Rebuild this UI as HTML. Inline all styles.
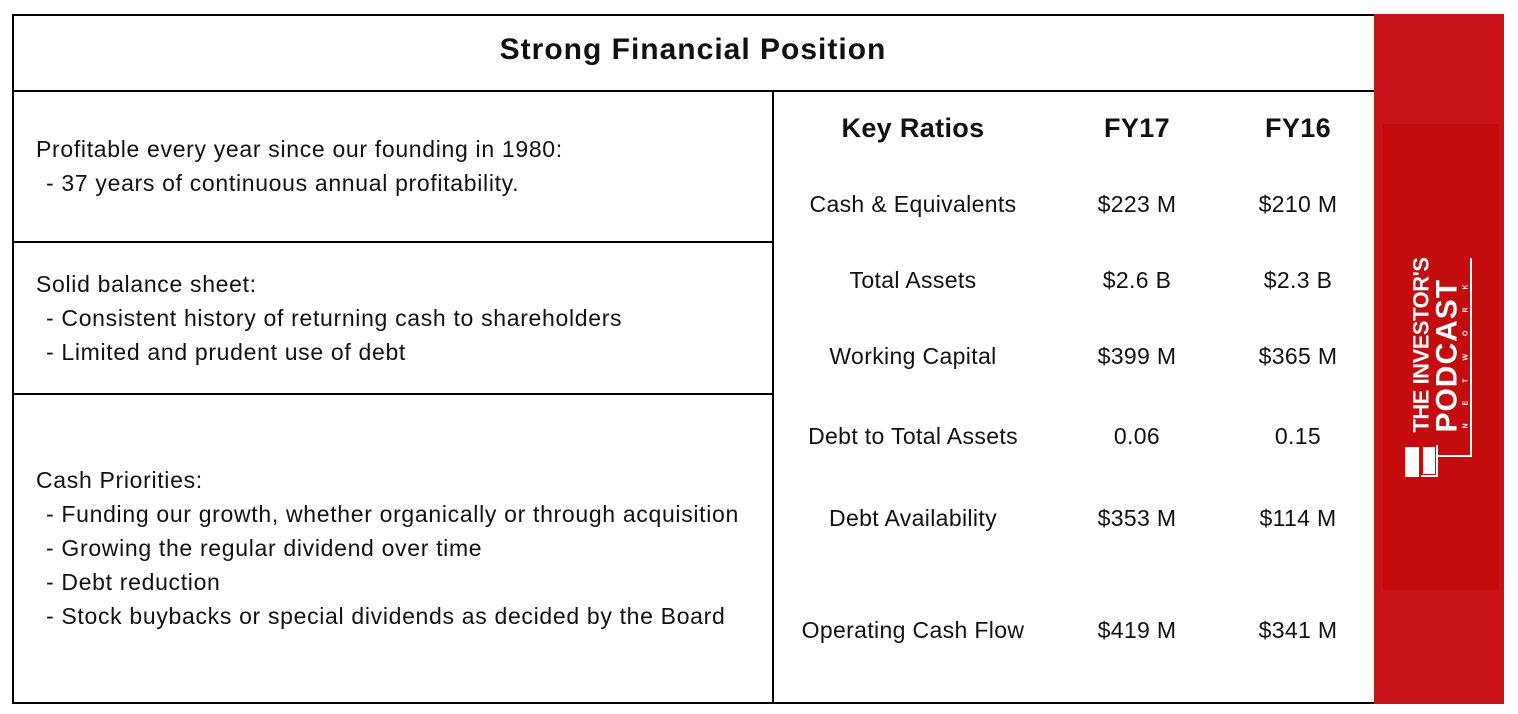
<!DOCTYPE html>
<html><head><meta charset="utf-8"><style>
body{margin:0;width:1518px;height:714px;background:#fff;position:relative;overflow:hidden;font-family:"Liberation Sans",sans-serif;color:#111}
.l{position:absolute;background:#000}
.t{position:absolute;font-size:23px;white-space:nowrap;letter-spacing:0.68px}
.c{position:absolute;font-size:23px;text-align:center;transform:translateX(-50%);white-space:nowrap;letter-spacing:0.35px}
.h{font-weight:bold;font-size:27px}
</style></head><body>
<div class="l" style="left:12px;top:14px;width:1362px;height:2px"></div>
<div class="l" style="left:12px;top:14px;width:2px;height:690px"></div>
<div class="l" style="left:12px;top:90px;width:1362px;height:2px"></div>
<div class="l" style="left:12px;top:702px;width:1362px;height:2px"></div>
<div class="l" style="left:772px;top:90px;width:2px;height:614px"></div>
<div class="l" style="left:12px;top:241px;width:762px;height:2px"></div>
<div class="l" style="left:12px;top:393px;width:762px;height:2px"></div>
<div style="position:absolute;left:1374px;top:14px;width:130px;height:690px;background:#c8131b"></div>
<div style="position:absolute;left:1383px;top:124px;width:116px;height:466px;background:#c40c0e"></div>
<div style="position:absolute;left:1440px;top:345px;transform:translate(-50%,-50%) rotate(-90deg);color:#fff;font-weight:bold;line-height:1;text-align:left;white-space:nowrap">
<div style="font-size:22px;letter-spacing:-0.5px">THE INVESTOR'S</div>
<div style="font-size:30px;letter-spacing:1px;margin-left:0px">PODCAST</div>
<div style="font-size:7px;letter-spacing:18px;margin-left:4px">NETWORK</div>
</div>
<div style="position:absolute;left:1405px;top:447px;width:14px;height:30px;background:#fff"></div>
<div style="position:absolute;left:1421px;top:445px;width:17px;height:32px;border:2px solid #fff;border-left:none;border-top:none;box-sizing:border-box"></div>
<div style="position:absolute;left:1423px;top:447px;width:12px;height:27px;background:#fff"></div>
<div style="position:absolute;left:1436px;top:455px;width:36px;height:2px;background:#fff"></div>
<div style="position:absolute;left:1470px;top:258px;width:2px;height:199px;background:#fff"></div>
<div class="c h" style="left:693px;top:33px;font-size:30px;letter-spacing:1px">Strong Financial Position</div>
<div class="t" style="left:36px;top:136px">Profitable every year since our founding in 1980:</div>
<div class="t" style="left:46px;top:170px">- 37 years of continuous annual profitability.</div>
<div class="t" style="left:36px;top:271px">Solid balance sheet:</div>
<div class="t" style="left:46px;top:305px">- Consistent history of returning cash to shareholders</div>
<div class="t" style="left:46px;top:339px">- Limited and prudent use of debt</div>
<div class="t" style="left:36px;top:467px">Cash Priorities:</div>
<div class="t" style="left:46px;top:501px">- Funding our growth, whether organically or through acquisition</div>
<div class="t" style="left:46px;top:535px">- Growing the regular dividend over time</div>
<div class="t" style="left:46px;top:569px">- Debt reduction</div>
<div class="t" style="left:46px;top:603px">- Stock buybacks or special dividends as decided by the Board</div>
<div class="c h" style="left:913px;top:113px">Key Ratios</div>
<div class="c h" style="left:1137px;top:113px">FY17</div>
<div class="c h" style="left:1298px;top:113px">FY16</div>
<div class="c" style="left:913px;top:191px">Cash &amp; Equivalents</div><div class="c" style="left:1137px;top:191px">$223 M</div><div class="c" style="left:1298px;top:191px">$210 M</div>
<div class="c" style="left:913px;top:267px">Total Assets</div><div class="c" style="left:1137px;top:267px">$2.6 B</div><div class="c" style="left:1298px;top:267px">$2.3 B</div>
<div class="c" style="left:913px;top:343px">Working Capital</div><div class="c" style="left:1137px;top:343px">$399 M</div><div class="c" style="left:1298px;top:343px">$365 M</div>
<div class="c" style="left:913px;top:423px">Debt to Total Assets</div><div class="c" style="left:1137px;top:423px">0.06</div><div class="c" style="left:1298px;top:423px">0.15</div>
<div class="c" style="left:913px;top:505px">Debt Availability</div><div class="c" style="left:1137px;top:505px">$353 M</div><div class="c" style="left:1298px;top:505px">$114 M</div>
<div class="c" style="left:913px;top:617px">Operating Cash Flow</div><div class="c" style="left:1137px;top:617px">$419 M</div><div class="c" style="left:1298px;top:617px">$341 M</div>
</body></html>
